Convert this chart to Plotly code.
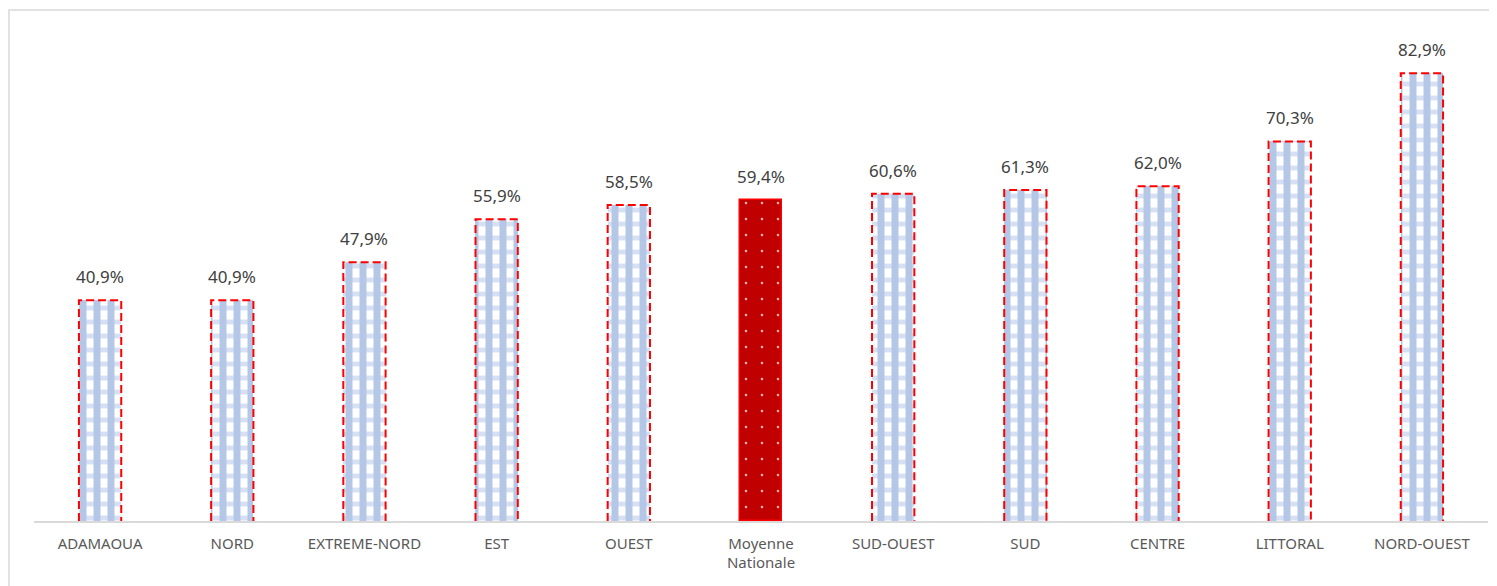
import plotly.graph_objects as go

categories = ["ADAMAOUA", "NORD", "EXTREME-NORD", "EST", "OUEST", "Moyenne<br>Nationale",
              "SUD-OUEST", "SUD", "CENTRE", "LITTORAL", "NORD-OUEST"]
values = [40.9, 40.9, 47.9, 55.9, 58.5, 59.4, 60.6, 61.3, 62.0, 70.3, 82.9]
highlight_index = 5

W, H = 1489, 578          # page adds an 8px body margin
L, R, T, B = 26, 9, 27, 65
bar_w = 0.32
FONT = "Noto Sans, Liberation Sans, sans-serif"

x_idx = list(range(len(categories)))
reg_x = [i for i in x_idx if i != highlight_index]
reg_y = [values[i] for i in reg_x]

fig = go.Figure()
# vertical blue stripes
fig.add_trace(go.Bar(
    x=reg_x, y=reg_y, width=bar_w,
    marker=dict(color="white", line=dict(width=0),
                pattern=dict(shape="|", fgcolor="#b4c7e7", bgcolor="white", fgopacity=1,
                             size=14, solidity=0.5)),
    showlegend=False, hoverinfo="skip"))
# lighter horizontal bands (tartan look)
fig.add_trace(go.Bar(
    x=reg_x, y=reg_y, width=bar_w,
    marker=dict(color="rgba(0,0,0,0)", line=dict(width=0),
                pattern=dict(shape="-", fgcolor="#b4c7e7", bgcolor="rgba(0,0,0,0)", fgopacity=0.55,
                             size=14, solidity=0.35)),
    showlegend=False, hoverinfo="skip"))
fig.add_trace(go.Bar(
    x=[highlight_index], y=[values[highlight_index]], width=bar_w,
    marker=dict(color="#c00000",
                line=dict(width=1.5, color="#ff0000"),
                pattern=dict(shape=".", fgcolor="#f4d0d0", bgcolor="#c00000", fgopacity=0.9,
                             size=16, solidity=0.02)),
    showlegend=False, hoverinfo="skip"))

# dashed red outlines for regular bars (derived from data)
ox, oy = [], []
for i in reg_x:
    v = values[i]
    x0, x1 = i - bar_w / 2, i + bar_w / 2
    ox += [x0, x0, x1, x1, None]
    oy += [0, v, v, 0, None]
fig.add_trace(go.Scatter(x=ox, y=oy, mode="lines",
                         line=dict(color="#ff0000", width=2, dash="8px,4px"),
                         showlegend=False, hoverinfo="skip"))

for i, v in enumerate(values):
    fig.add_annotation(x=i, y=v, text=f"{v:.1f}%".replace(".", ","),
                       showarrow=False, yanchor="bottom", yshift=10,
                       font=dict(family=FONT, size=17, color="#404040"))

fig.update_layout(
    width=W, height=H,
    margin=dict(l=L, r=R, t=T, b=B),
    paper_bgcolor="white", plot_bgcolor="white",
    barmode="overlay", bargap=0,
    xaxis=dict(tickmode="array", tickvals=x_idx, ticktext=categories,
               range=[-0.5, len(categories) - 0.5],
               showline=True, linecolor="#d9d9d9", linewidth=1.5,
               showgrid=False, zeroline=False, ticks="", ticklabelstandoff=8,
               tickfont=dict(family=FONT, size=15, color="#595959")),
    yaxis=dict(range=[0, 90], visible=False, showgrid=False, zeroline=False),
)

# chart frame (page x=9, y=10 -> figure x=1, y=2)
px_w = W - L - R
px_h = H - T - B
fig.add_shape(type="rect", xref="paper", yref="paper",
              x0=(1 - L) / px_w, x1=(W + 10 - L) / px_w,
              y0=-(B + 20) / px_h, y1=1 + (T - 2) / px_h,
              line=dict(color="#d9d9d9", width=1.5), fillcolor="rgba(0,0,0,0)", layer="below")

fig.write_html("out.html")
